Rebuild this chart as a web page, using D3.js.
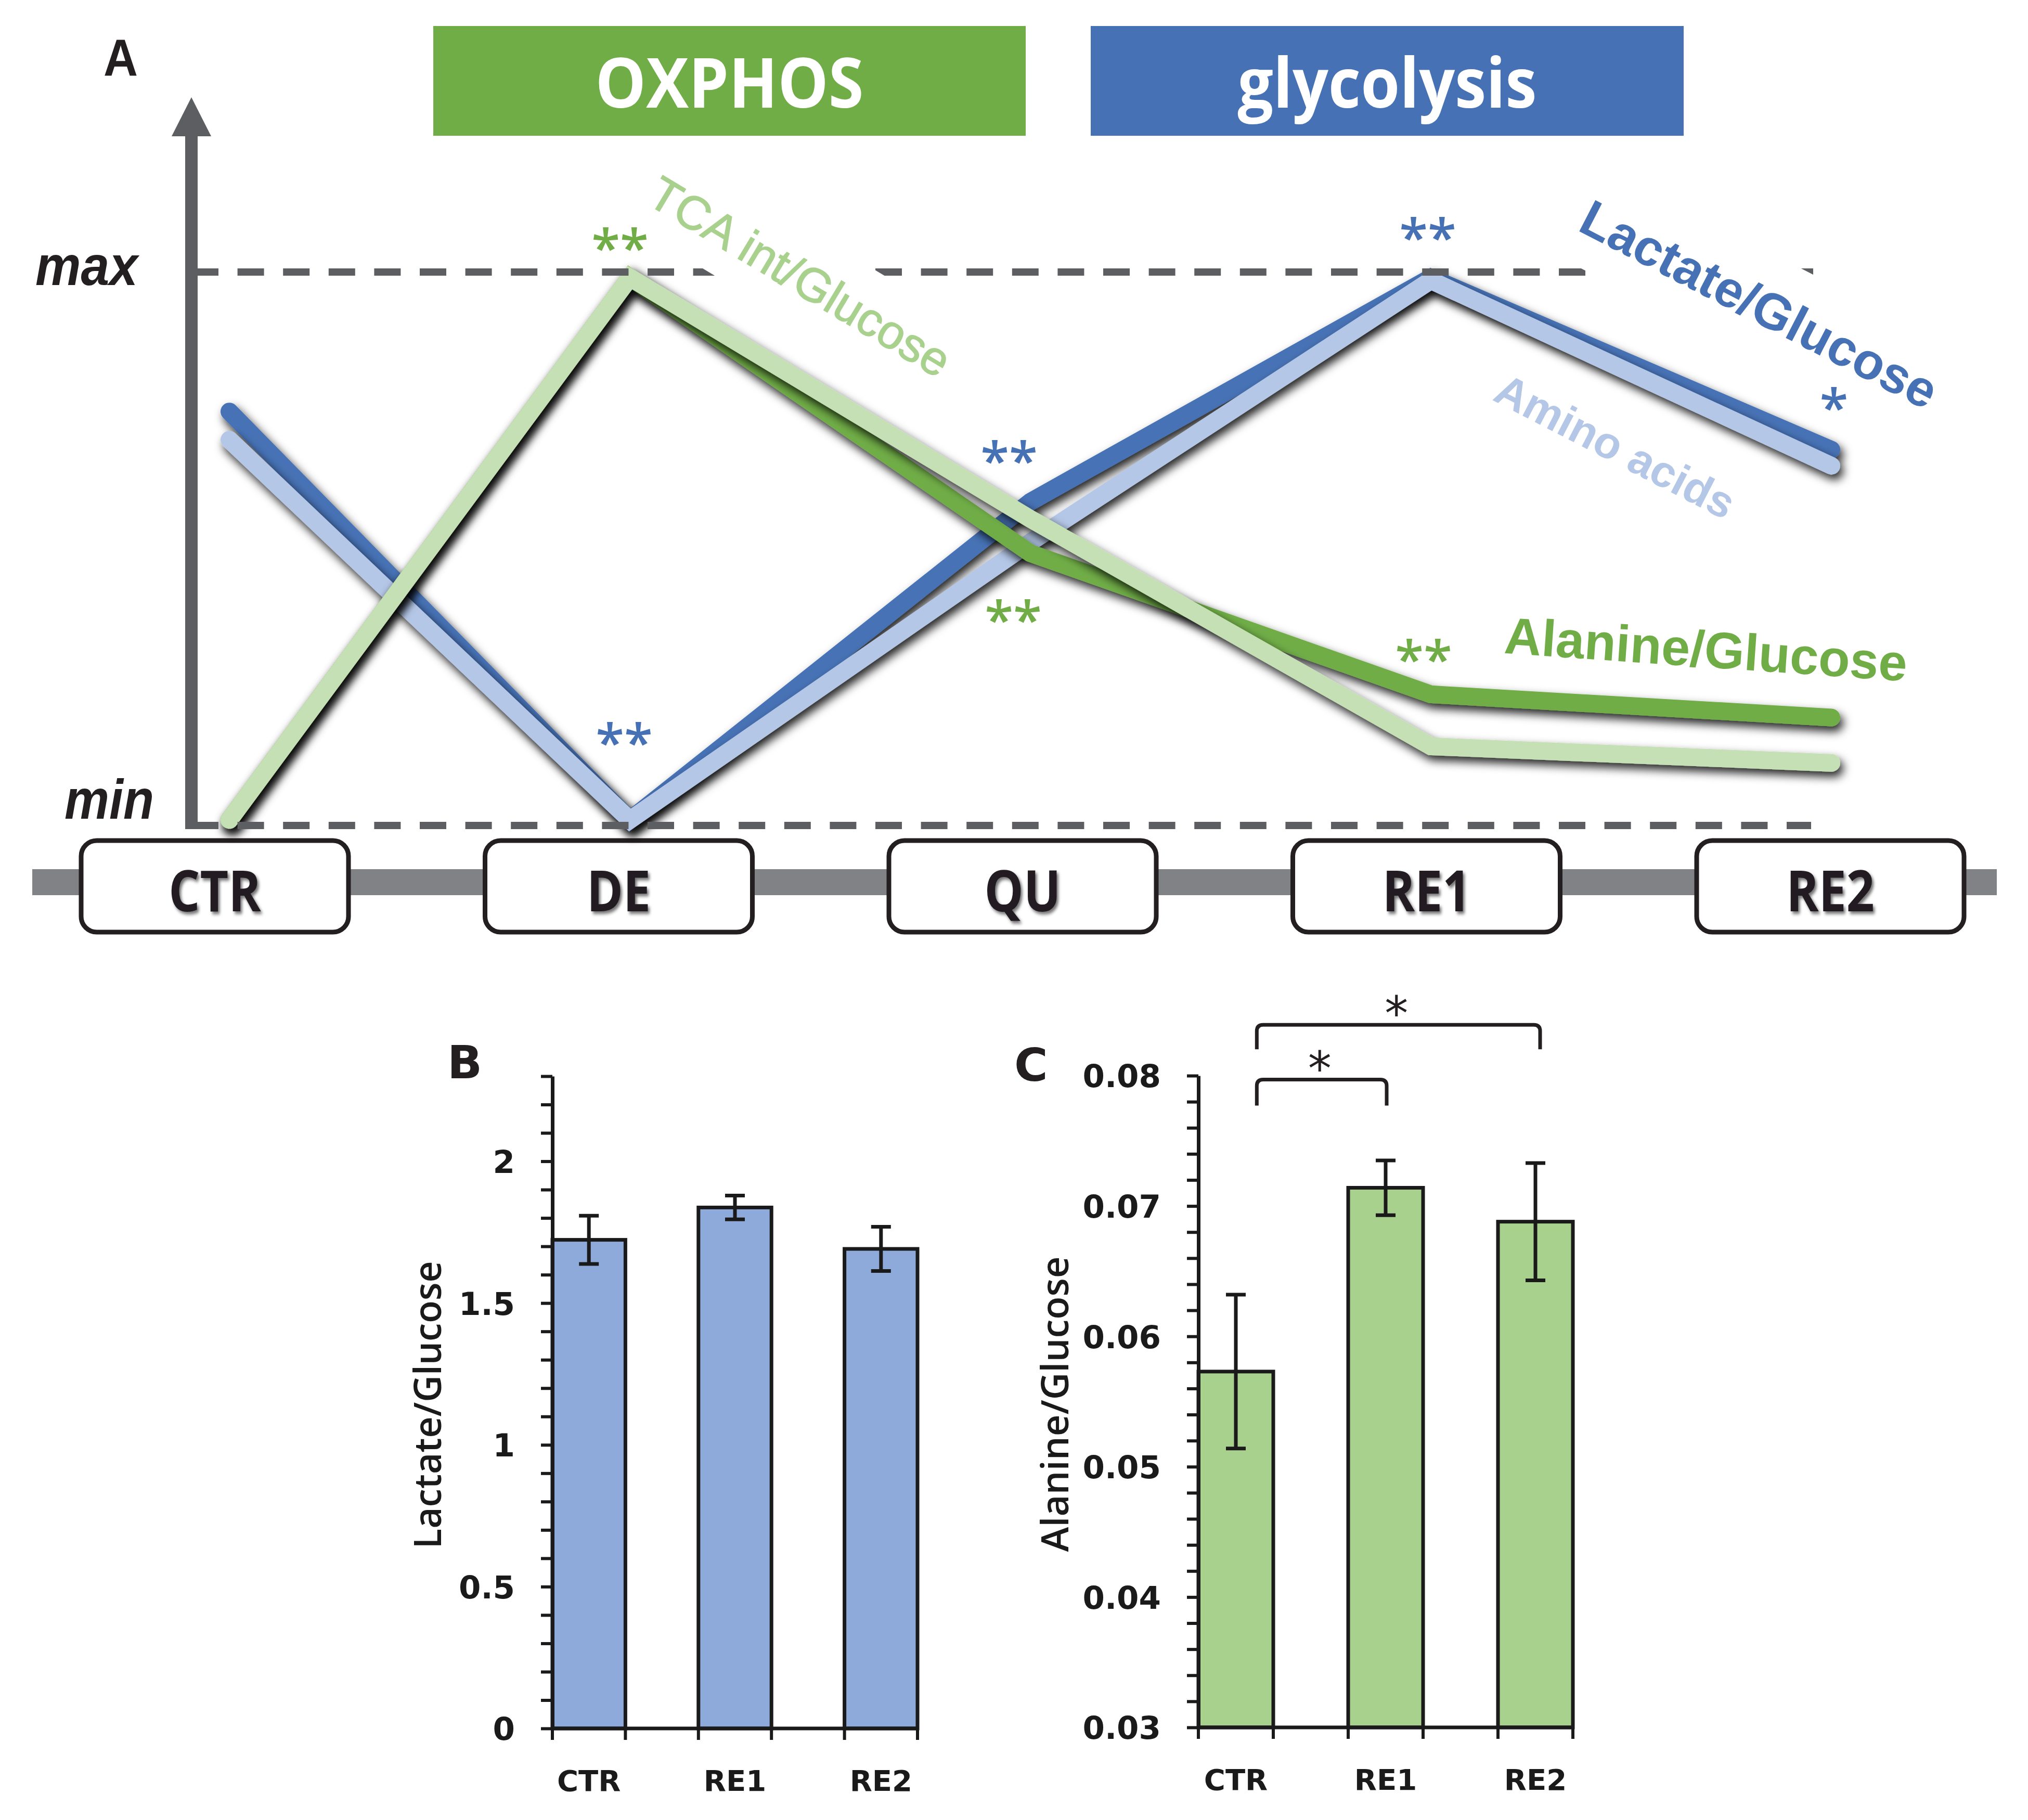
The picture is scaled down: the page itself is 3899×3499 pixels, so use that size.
<!DOCTYPE html>
<html><head><meta charset="utf-8">
<script src="https://cdn.jsdelivr.net/npm/d3@7"></script>
<style>body{margin:0;background:#fff}</style>
</head><body>
<script>
// ---------------- DATA ----------------
// Panel A (relative scale, 0 = min, 1 = max)
const stages = ["CTR", "DE", "QU", "RE1", "RE2"];
const lactateGlucose = [0.748, 0.01, 0.585, 0.99, 0.679];
const aminoAcids     = [0.697, 0.01, 0.512, 0.985, 0.650];
const alanineGlucose = [0.01, 0.99, 0.492, 0.237, 0.195];
const tcaGlucose     = [0.01, 0.99, 0.554, 0.143, 0.113];
const seriesNames = ["Lactate/Glucose", "Amino acids", "Alanine/Glucose", "TCA int/Glucose"];
const phaseLabels = ["OXPHOS", "glycolysis"];
// significance marks in panel A
const sigStage  = ["DE", "DE", "QU", "QU", "RE1", "RE1", "RE2"];
const sigText   = ["**", "**", "**", "**", "**", "**", "*"];
const sigSeries = ["Alanine/Glucose", "Lactate/Glucose", "Lactate/Glucose", "Alanine/Glucose", "Lactate/Glucose", "Alanine/Glucose", "Lactate/Glucose"];

// Panel B / C
const barCategories = ["CTR", "RE1", "RE2"];
const lactateMean = [1.723, 1.837, 1.691];
const lactateErr  = [0.085, 0.042, 0.078];
const alanineMean = [0.0573, 0.0714, 0.0688];
const alanineErr  = [0.0059, 0.0021, 0.0045];
const lactateTicks = [0, 0.5, 1, 1.5, 2];
const lactateTickLabels = ["0", "0.5", "1", "1.5", "2"];
const alanineTicks = [0.03, 0.04, 0.05, 0.06, 0.07, 0.08];
const alanineTickLabels = ["0.03", "0.04", "0.05", "0.06", "0.07", "0.08"];
const bracketPairs = [["CTR", "RE1"], ["CTR", "RE2"]];
const bracketLevel = [0.0797, 0.0839];
const bracketText = ["*", "*"];

// ---------------- SETUP ----------------
const W = 3899, H = 3499;
const svg = d3.select("body").append("svg").attr("width", W).attr("height", H)
  .style("background", "#fff");
const defs = svg.append("defs");
function shadow(id, dx, dy, sd, op) {
  defs.append("filter").attr("id", id).attr("filterUnits", "userSpaceOnUse")
    .attr("x", -W).attr("y", -H).attr("width", 3 * W).attr("height", 3 * H)
    .append("feDropShadow").attr("dx", dx).attr("dy", dy).attr("stdDeviation", sd)
    .attr("flood-color", "#000").attr("flood-opacity", op);
}
shadow("lineShadow", 6, 10, 9, 0.85);
shadow("textShadow", 4, 5, 3, 0.55);

const colors = {
  "Lactate/Glucose": "#4672b5",
  "Amino acids": "#b4c7e7",
  "Alanine/Glucose": "#70ad47",
  "TCA int/Glucose": "#c5e0b4"
};
const labelColors = {
  "Lactate/Glucose": "#4672b5",
  "Amino acids": "#b4c7e7",
  "Alanine/Glucose": "#70ad47",
  "TCA int/Glucose": "#a9d18e"
};
const seriesData = {
  "Lactate/Glucose": lactateGlucose,
  "Amino acids": aminoAcids,
  "Alanine/Glucose": alanineGlucose,
  "TCA int/Glucose": tcaGlucose
};
const gray = "#5d5e61";

// ---------------- PANEL A ----------------
const A = svg.append("g");
const xA = d3.scalePoint().domain(stages).range([441, 3521]);
const xBox = d3.scalePoint().domain(stages).range([413, 3519]);
const yA = d3.scaleLinear().domain([0, 1]).range([1587, 523]);

// panel letter
A.append("text").attr("x", 199).attr("y", 146).text("A")
  .attr("font-family", "Liberation Sans, Arial, sans-serif").attr("font-weight", 700)
  .attr("font-size", 100).attr("textLength", 66).attr("lengthAdjust", "spacingAndGlyphs").attr("fill", "#231f20");

// phase boxes
const phaseBoxes = [[833, 1972, "#70ad47"], [2097, 3237, "#4672b5"]];
const phaseWidths = [516, 575];
phaseLabels.forEach((p, i) => {
  const [x0, x1, c] = phaseBoxes[i];
  A.append("rect").attr("x", x0).attr("y", 50).attr("width", x1 - x0).attr("height", 211).attr("fill", c);
  A.append("text").attr("x", (x0 + x1) / 2).attr("y", 207).attr("text-anchor", "middle")
    .attr("font-family", "Open Sans, sans-serif").attr("font-weight", 700).attr("font-size", 133)
    .attr("textLength", phaseWidths[i]).attr("lengthAdjust", "spacingAndGlyphs")
    .attr("fill", "#fff").text(p);
});

// timeline bar
A.append("rect").attr("x", 62).attr("y", 1671).attr("width", 3777).attr("height", 50).attr("fill", "#808285");

// stage boxes
stages.forEach(s => {
  A.append("rect").attr("x", xBox(s) - 257).attr("y", 1616).attr("width", 514).attr("height", 176)
    .attr("rx", 30).attr("fill", "#fff").attr("stroke", "#231f20").attr("stroke-width", 9);
  A.append("g").attr("transform", `translate(${xBox(s)},1752) scale(0.86,1)`)
    .append("text").attr("text-anchor", "middle")
    .attr("font-family", "Open Sans, sans-serif").attr("font-weight", 700).attr("font-size", 110)
    .attr("fill", "#231f20").attr("filter", "url(#textShadow)").text(s);
});

// vertical axis with arrow
A.append("line").attr("x1", 368).attr("x2", 368).attr("y1", 255).attr("y2", 1594)
  .attr("stroke", gray).attr("stroke-width", 24);
A.append("path").attr("d", "M368,187 L330,262 L406,262 Z").attr("fill", gray);

// data lines
const lineGen = d3.line().x((d, i) => xA(stages[i])).y(d => yA(d));
seriesNames.forEach(n => {
  A.append("path").attr("d", lineGen(seriesData[n])).attr("fill", "none")
    .attr("stroke", colors[n]).attr("stroke-width", 34)
    .attr("stroke-linejoin", "miter").attr("stroke-linecap", "round")
    .attr("filter", "url(#lineShadow)");
});

// max / min dashed lines
[[1, 3490], [0, 3482]].forEach(([v, xe]) => {
  A.append("line").attr("x1", 369).attr("x2", xe).attr("y1", yA(v)).attr("y2", yA(v))
    .attr("stroke", gray).attr("stroke-width", 14).attr("stroke-dasharray", "51 36.6");
});
A.append("text").attr("x", 68).attr("y", 548).text("max")
  .attr("font-family", "Liberation Sans, Arial, sans-serif").attr("font-style", "italic").attr("font-weight", 700)
  .attr("font-size", 108).attr("textLength", 197).attr("lengthAdjust", "spacingAndGlyphs").attr("fill", "#231f20");
A.append("text").attr("x", 124).attr("y", 1574).text("min")
  .attr("font-family", "Liberation Sans, Arial, sans-serif").attr("font-style", "italic").attr("font-weight", 700)
  .attr("font-size", 108).attr("textLength", 172).attr("lengthAdjust", "spacingAndGlyphs").attr("fill", "#231f20");

// series labels (rotated)
const seriesLabelLayout = {
  "TCA int/Glucose": {cx: 1539, cy: 531, rot: 31, fs: 91, bg: 168},
  "Lactate/Glucose": {cx: 3383, cy: 584, rot: 27.3, fs: 98, bg: 194},
  "Amino acids":     {cx: 3106, cy: 857, rot: 27.3, fs: 85, bg: 0},
  "Alanine/Glucose": {cx: 3280, cy: 1247, rot: 4, fs: 99, bg: 0}
};
seriesNames.forEach(n => {
  const L = seriesLabelLayout[n];
  const g = A.append("g").attr("transform", `translate(${L.cx},${L.cy}) rotate(${L.rot})`);
  const bg = g.append("rect").attr("fill", "#fff");
  const t = g.append("text").attr("x", 0).attr("y", 0.36 * L.fs).attr("text-anchor", "middle")
    .attr("font-family", "Liberation Sans, Arial, sans-serif")
    .attr("font-weight", n === "TCA int/Glucose" ? 400 : 700)
    .attr("font-size", L.fs).attr("fill", labelColors[n]).text(n);
  if (n === "TCA int/Glucose") t.attr("stroke", labelColors[n]).attr("stroke-width", 1.5);
  if (L.bg) {
    const bb = t.node().getBBox();
    bg.attr("x", bb.x - 10).attr("width", bb.width + 20).attr("y", -L.bg / 2).attr("height", L.bg);
  } else bg.remove();
});

// significance asterisks
const sigOffset = [[-19, -71], [-11, -162], [-41, -93], [-33, 114], [-6, -91], [-14, -81], [5, -95]];
sigStage.forEach((s, i) => {
  const n = sigSeries[i];
  const v = seriesData[n][stages.indexOf(s)];
  const cx = xA(s) + sigOffset[i][0], cy = yA(v) + sigOffset[i][1];
  A.append("text").attr("x", cx).attr("y", cy + 50).attr("text-anchor", "middle")
    .attr("font-family", "Open Sans, sans-serif").attr("font-weight", 600).attr("font-size", 100)
    .attr("fill", n.startsWith("Lactate") ? "#4672b5" : "#70ad47").text(sigText[i]);
});

// ---------------- BAR PANELS ----------------
function barPanel(o) {
  const g = svg.append("g");
  const x = d3.scaleBand().domain(barCategories).range(o.xr).paddingInner(0.5).paddingOuter(0);
  const y = d3.scaleLinear().domain(o.dom).range(o.yr);
  const bw = x.bandwidth();
  const ink = "#1a1a1a";
  // bars
  g.selectAll(".bar").data(barCategories).enter().append("rect")
    .attr("x", d => x(d)).attr("width", bw)
    .attr("y", (d, i) => y(o.mean[i])).attr("height", (d, i) => y(o.dom[0]) - y(o.mean[i]))
    .attr("fill", o.fill).attr("stroke", ink).attr("stroke-width", 7);
  // minor ticks + axis line
  const minor = d3.range(0, Math.round((o.dom[1] - o.dom[0]) / o.minorStep) + 1).map(k => o.dom[0] + k * o.minorStep);
  const ax = g.append("g").attr("transform", `translate(${o.xr[0]},0)`)
    .call(d3.axisLeft(y).tickValues(minor).tickSize(22).tickSizeOuter(0).tickFormat(""));
  ax.select(".domain").attr("stroke", ink).attr("stroke-width", 7);
  ax.selectAll(".tick line").attr("stroke", ink).attr("stroke-width", 6);
  // labels
  const lab = g.append("g").attr("transform", `translate(${o.xr[0]},0)`)
    .call(d3.axisLeft(y).tickValues(o.ticks).tickSize(0).tickPadding(72).tickFormat((d, i) => o.tickLabels[i]));
  lab.select(".domain").remove();
  lab.selectAll("text").attr("font-family", "DejaVu Sans, Verdana, sans-serif").attr("font-weight", 700)
    .attr("font-size", 61).attr("fill", ink).attr("dy", "0.36em");
  // x axis
  g.append("line").attr("x1", o.xr[0]).attr("x2", o.xr[1]).attr("y1", y(o.dom[0])).attr("y2", y(o.dom[0]))
    .attr("stroke", ink).attr("stroke-width", 7);
  barCategories.forEach(c => {
    [x(c), x(c) + bw].forEach(xx => {
      g.append("line").attr("x1", xx).attr("x2", xx).attr("y1", y(o.dom[0])).attr("y2", y(o.dom[0]) + 22)
        .attr("stroke", ink).attr("stroke-width", 6);
    });
    g.append("text").attr("x", x(c) + bw / 2).attr("y", y(o.dom[0]) + 120).attr("text-anchor", "middle")
      .attr("font-family", "DejaVu Sans, Verdana, sans-serif").attr("font-weight", 700).attr("font-size", 56)
      .attr("fill", ink).text(c);
  });
  // error bars
  barCategories.forEach((c, i) => {
    const cx = x(c) + bw / 2;
    const y1 = y(o.mean[i] + o.err[i]), y0 = y(o.mean[i] - o.err[i]);
    g.append("line").attr("x1", cx).attr("x2", cx).attr("y1", y1).attr("y2", y0).attr("stroke", ink).attr("stroke-width", 7);
    [y1, y0].forEach(yy => g.append("line").attr("x1", cx - 19).attr("x2", cx + 19).attr("y1", yy).attr("y2", yy)
      .attr("stroke", ink).attr("stroke-width", 7));
  });
  // y title
  g.append("text").attr("transform", `translate(${o.titleX},${(o.yr[0] + o.yr[1]) / 2 + 5}) rotate(-90)`)
    .attr("text-anchor", "middle").attr("font-family", "Open Sans, sans-serif").attr("font-weight", 600)
    .attr("font-size", 72).attr("textLength", o.titleLen).attr("lengthAdjust", "spacingAndGlyphs")
    .attr("fill", ink).text(o.title);
  // panel letter
  g.append("text").attr("x", o.letterX).attr("y", o.letterY).attr("font-family", "DejaVu Sans, Verdana, sans-serif")
    .attr("font-weight", 700).attr("font-size", 88).attr("fill", "#231f20").text(o.letter);
  return {g, x, y, bw};
}

barPanel({
  xr: [1062, 1764], yr: [3323, 2069], dom: [0, 2.3], minorStep: 0.1,
  mean: lactateMean, err: lactateErr, fill: "#8eaadb",
  ticks: lactateTicks, tickLabels: lactateTickLabels,
  title: "Lactate/Glucose", titleX: 848, titleLen: 553,
  letter: "B", letterX: 860, letterY: 2073
});

const C = barPanel({
  xr: [2304, 3024], yr: [3321, 2068], dom: [0.03, 0.08], minorStep: 0.002,
  mean: alanineMean, err: alanineErr, fill: "#a9d18e",
  ticks: alanineTicks, tickLabels: alanineTickLabels,
  title: "Alanine/Glucose", titleX: 2054, titleLen: 568,
  letter: "C", letterX: 1950, letterY: 2078
});

// significance brackets in C
bracketPairs.forEach(([a, b], i) => {
  const xl = C.x(a) + C.bw * 0.78;
  const xr = C.x(b) + C.bw / 2 + (i === 0 ? 2 : 9);
  const top = C.y(bracketLevel[i]);
  const bot = top + (i === 0 ? 50 : 47);
  const r = 12;
  C.g.append("path")
    .attr("d", `M${xl},${bot} V${top + r} Q${xl},${top} ${xl + r},${top} H${xr - r} Q${xr},${top} ${xr},${top + r} V${bot}`)
    .attr("fill", "none").attr("stroke", "#231f20").attr("stroke-width", 7);
  C.g.append("text").attr("x", (xl + xr) / 2 - 4).attr("y", top + 10).attr("text-anchor", "middle")
    .attr("font-family", "DejaVu Sans, Verdana, sans-serif").attr("font-size", 90).attr("fill", "#231f20")
    .text(bracketText[i]);
});
</script>
</body></html>
